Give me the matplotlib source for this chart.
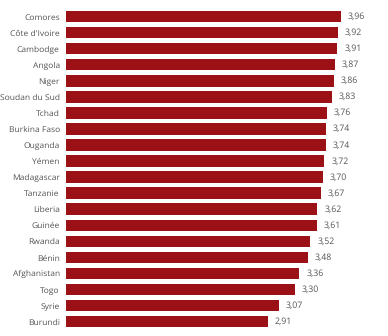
import matplotlib
matplotlib.use("Agg")
import matplotlib.pyplot as plt

plt.rcParams["text.hinting"] = "no_hinting"

countries = ["Comores", "Côte d'Ivoire", "Cambodge", "Angola", "Niger",
             "Soudan du Sud", "Tchad", "Burkina Faso", "Ouganda", "Yémen",
             "Madagascar", "Tanzanie", "Liberia", "Guinée", "Rwanda",
             "Bénin", "Afghanistan", "Togo", "Syrie", "Burundi"]
values = [3.96, 3.92, 3.91, 3.87, 3.86, 3.83, 3.76, 3.74, 3.74, 3.72,
          3.70, 3.67, 3.62, 3.61, 3.52, 3.48, 3.36, 3.30, 3.07, 2.91]

bar_color = "#9b1116"
text_color = "#555555"

fig = plt.figure(figsize=(3.88, 3.36), dpi=100)
ax = fig.add_axes([66 / 388, 1 - 329.7 / 336, 1 - 66 / 388, (329.7 - 8.5) / 336])

ypos = list(range(len(countries)))
ax.barh(ypos, values, height=0.72, color=bar_color)
ax.set_ylim(len(countries) - 0.5, -0.5)
ax.set_xlim(0, 322 / 69.4)

for y, v in zip(ypos, values):
    ax.annotate(f"{v:.2f}".replace(".", ","), xy=(v, y), xytext=(5, 0),
                textcoords="offset points", ha="left", va="center",
                fontsize=6.3, color=text_color, family="Open Sans")

ax.set_yticks(ypos)
ax.set_yticklabels(countries, fontsize=6.1, color=text_color, family="Open Sans")
ax.tick_params(axis="y", length=0, pad=4.5)
ax.set_xticks([])
for s in ax.spines.values():
    s.set_visible(False)

fig.savefig("out.png", dpi=100, facecolor="white")
